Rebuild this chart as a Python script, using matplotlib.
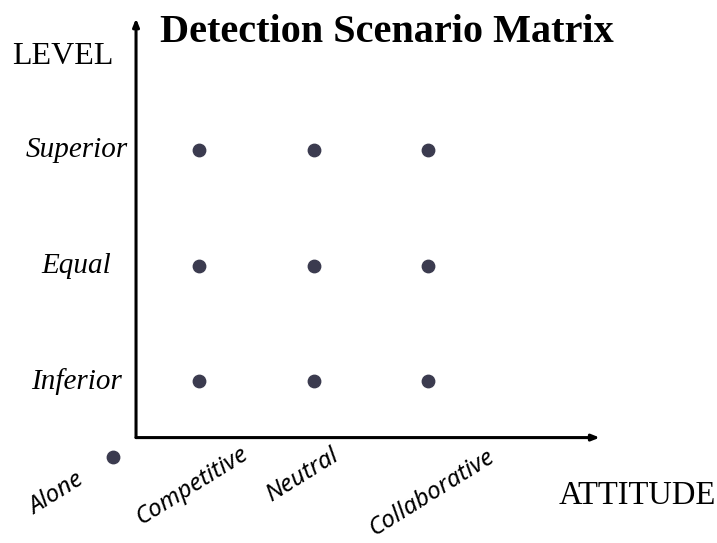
import matplotlib.pyplot as plt

# attitude / level categories (index positions on the axes)
attitudes = ["Competitive", "Neutral", "Collaborative"]
attitude_pos = [1, 2, 3]
levels = ["Inferior", "Equal", "Superior"]
level_pos = [1, 2, 3]
# the lone "Alone" scenario sits outside the grid
alone_label = "Alone"
alone_point = (0.25, 0.34)

dot_color = "#3b3b4f"
serif = ["Liberation Serif", "DejaVu Serif"]
sans = ["Noto Sans", "DejaVu Sans"]

fig = plt.figure(figsize=(7.17, 5.43), dpi=100)
ax = fig.add_axes([0, 0, 1, 1])
ax.set_xlim(-0.738, 5.524)
ax.set_ylim(-0.403, 4.30)
ax.axis("off")

# axes arrows
origin = (0.45, 0.51)
ax.annotate("", xy=(4.5, origin[1]), xytext=origin,
            arrowprops=dict(arrowstyle="-|>,head_length=0.45,head_width=0.18",
                            lw=2.2, color="black", shrinkA=0, shrinkB=0))
ax.annotate("", xy=(origin[0], 4.14), xytext=origin,
            arrowprops=dict(arrowstyle="-|>,head_length=0.45,head_width=0.18",
                            lw=2.2, color="black", shrinkA=0, shrinkB=0))

# the grid of scenarios
xs = [a for a in attitude_pos for _ in level_pos]
ys = [l for _ in attitude_pos for l in level_pos]
ax.scatter(xs, ys, s=80, color=dot_color, zorder=3)
ax.scatter([alone_point[0]], [alone_point[1]], s=80, color=dot_color, zorder=3)

# level labels
for lab, y in zip(levels, level_pos):
    ax.text(-0.07, y, lab, ha="center", va="center", fontsize=21,
            style="italic", family=serif)

# attitude labels (rotated)
label_xy = {"Alone": (-0.24, 0.02), "Competitive": (0.94, 0.09),
            "Neutral": (1.90, 0.18), "Collaborative": (3.03, 0.03)}
for lab in [alone_label] + attitudes:
    x, y = label_xy[lab]
    ax.text(x, y, lab, ha="center", va="center", rotation=32,
            rotation_mode="anchor", fontsize=17.5, style="italic", family=sans)

ax.text(-0.19, 3.81, "LEVEL", ha="center", va="center", fontsize=23,
        family=serif)
ax.text(4.83, 0.01, "ATTITUDE", ha="center", va="center", fontsize=23.5,
        family=serif)
ax.text(2.64, 4.015, "Detection Scenario Matrix", ha="center", va="center",
        fontsize=29, fontweight="bold", family=serif)

fig.savefig("out.png", dpi=100)
